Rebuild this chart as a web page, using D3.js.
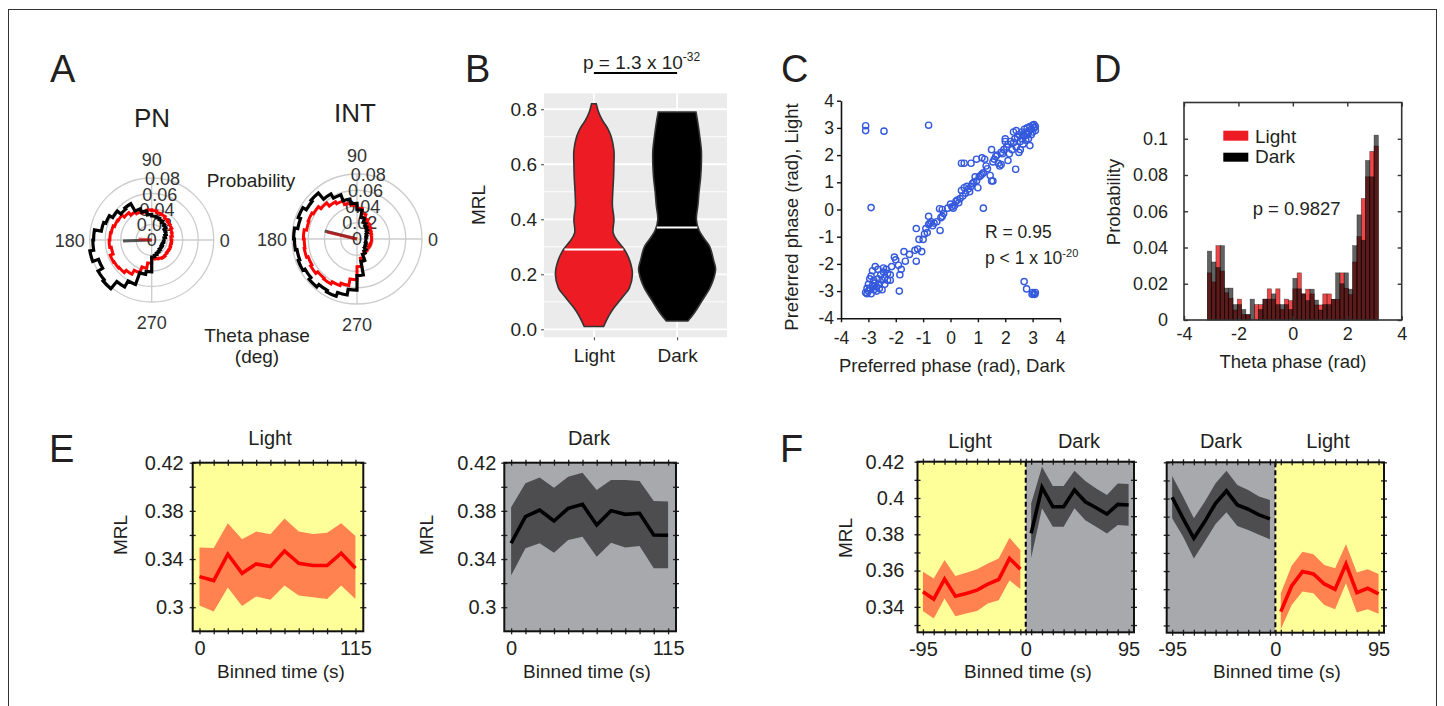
<!DOCTYPE html>
<html>
<head>
<meta charset="utf-8">
<script src="https://cdn.jsdelivr.net/npm/d3@7"></script>
<style>
  body { margin: 0; background: #fff; }
  text { font-family: "Liberation Sans", Arial, sans-serif; fill: #231f20; }
</style>
</head>
<body>
<svg id="fig" width="1444" height="706"></svg>
<script>
// ---------- data ----------
// A: polar histograms, 36 bins of 10 deg starting at 0 deg
var polarStep = 10;
var polarAngles = d3.range(0, 360, polarStep);
var polarRings = [0.02, 0.04, 0.06, 0.08];
var polarRingLabels = [0, 0.02, 0.04, 0.06, 0.08];
var pnDark = [0.016,0.018,0.02,0.021,0.024,0.026,0.028,0.03,0.031,0.033,0.038,0.043,0.054,0.052,0.058,0.063,0.066,0.075,
              0.076,0.081,0.073,0.08,0.082,0.07,0.061,0.045,0.041,0.022,0.02,0.018,0.017,0.015,0.016,0.014,0.015,0.016];
var pnLight = [0.025,0.027,0.028,0.03,0.031,0.033,0.035,0.036,0.038,0.039,0.037,0.039,0.042,0.046,0.05,0.051,0.053,0.054,
               0.055,0.053,0.057,0.056,0.055,0.051,0.045,0.037,0.03,0.024,0.025,0.026,0.027,0.026,0.025,0.026,0.025,0.026];
var intDark = [0.011,0.012,0.013,0.015,0.017,0.019,0.022,0.027,0.036,0.044,0.05,0.058,0.064,0.074,0.072,0.077,0.074,0.078,
               0.077,0.075,0.077,0.074,0.077,0.073,0.075,0.07,0.063,0.045,0.028,0.02,0.017,0.014,0.013,0.012,0.011,0.011];
var intLight = [0.018,0.018,0.019,0.02,0.022,0.024,0.027,0.032,0.038,0.042,0.045,0.05,0.053,0.058,0.062,0.064,0.063,0.066,
                0.065,0.066,0.064,0.066,0.063,0.064,0.061,0.058,0.05,0.034,0.024,0.02,0.019,0.018,0.018,0.017,0.018,0.018];
var pnMeanAngle = [182, 176];   // dark, light (deg)
var pnMeanLen = [0.037, 0.017];
var intMeanAngle = [166, 167];
var intMeanLen = [0.041, 0.038];

// B: violins
var violinGroups = ['Light', 'Dark'];
var violinLightVals = [0.01,0.05,0.08,0.12,0.15,0.20,0.25,0.29,0.32,0.35,0.40,0.45,0.50,0.55,0.60,0.65,0.70,0.73,0.76,0.79,0.82];
var violinLightDens = [0.25,0.39,0.53,0.76,0.92,1.0,0.93,0.79,0.62,0.5,0.52,0.48,0.49,0.51,0.52,0.52,0.45,0.36,0.22,0.12,0.06];
var violinDarkVals = [0.03,0.06,0.10,0.15,0.18,0.22,0.25,0.30,0.33,0.36,0.40,0.45,0.50,0.55,0.60,0.65,0.70,0.75,0.79];
var violinDarkDens = [0.28,0.45,0.63,0.85,0.94,1.0,0.95,0.85,0.7,0.57,0.5,0.54,0.57,0.61,0.63,0.63,0.59,0.54,0.49];
var violinMedians = [0.29, 0.37];
var bTicks = [0, 0.2, 0.4, 0.6, 0.8];
var bMinor = [0.1, 0.3, 0.5, 0.7];

// C: preferred phase, [dark, light]
var phasePairs = [
  [-3.1,3.08],[-3.1,2.9],[-2.43,2.88],[-0.8,3.1],[-2.9,0.07],[1.2,0.05],[2.38,1.48],[2.69,-2.65],[2.78,-2.92],
  [3.0,-3.05],[3.05,-3.1],[3.1,-3.05],[3.08,-3.12],[2.98,-3.12],[-1.87,-3.0],[-0.38,-0.77],
  [-3.1,-3.05],[-3.05,-3.1],[-3.0,-3.0],[-2.95,-2.9],[-2.9,-3.1],[-2.85,-2.8],[-2.8,-2.95],[-2.75,-2.7],[-2.7,-2.85],
  [-2.8,-2.6],[-2.85,-2.25],[-2.75,-2.1],[-2.65,-2.55],[-2.6,-2.75],[-2.55,-2.4],[-2.5,-2.6],[-2.45,-2.3],[-2.4,-2.5],
  [-2.35,-2.2],[-2.3,-2.6],[-2.5,-2.95],[-2.4,-2.75],[-2.2,-2.4],[-2.15,-2.1],[-2.05,-1.75],[-2.0,-1.85],[-2.9,-2.45],
  [-3.0,-2.75],[-2.95,-2.55],[-2.65,-2.2],[-2.6,-2.9],[-2.45,-2.15],[-2.3,-2.35],[-2.2,-2.6],[-3.05,-2.9],[-2.7,-3.0],
  [-1.9,-2.05],[-1.85,-2.4],[-1.8,-2.2],[-1.7,-1.55],[-1.65,-1.9],[-1.5,-1.65],[-1.3,-1.5],[-1.25,-1.9],[-1.2,-1.45],
  [-1.15,-1.1],[-1.05,-1.55],[-1.0,-1.1],[-0.95,-0.9],[-1.25,-0.7],[-0.9,-0.7],[-0.85,-0.85],[-0.8,-0.55],[-0.75,-0.5],
  [-0.7,-0.45],[-0.65,-0.6],[-0.6,-0.5],[-0.5,-0.45],[-0.8,-0.25],[-0.35,-0.3],[-0.3,0.0],[-0.3,-0.25],[-0.25,-0.15],
  [-0.4,0.03],[-0.1,0.05],[0.0,0.2],[0.05,0.1],[0.1,0.05],[0.15,0.15],[0.2,0.3],[0.25,0.35],[0.3,0.25],[0.35,0.4],
  [0.4,0.7],[0.45,0.5],[0.5,0.8],[0.55,0.6],[0.6,0.85],[0.65,0.75],[0.7,0.65],[0.75,0.85],[0.8,0.95],[0.85,1.0],
  [0.9,1.2],[0.95,1.05],[1.0,0.8],[1.05,1.2],[1.1,1.25],[1.15,1.3],[1.2,1.35],[1.25,1.85],[1.3,1.6],[1.35,1.5],
  [1.45,1.25],[1.5,1.05],[1.5,2.2],[1.55,1.75],[1.6,1.85],[1.65,1.95],[1.7,2.0],[1.75,1.7],[1.8,1.6],[1.85,2.1],
  [1.9,2.05],[1.95,2.2],[2.0,2.5],[2.0,2.6],[2.05,2.3],[2.1,1.8],[2.1,2.4],[2.15,2.05],[2.2,2.5],[2.25,2.2],[2.3,2.45],
  [2.35,2.6],[2.4,2.9],[2.4,2.3],[2.45,2.65],[2.5,2.75],[2.5,2.1],[2.55,2.5],[2.6,2.85],[2.6,2.6],[2.65,2.4],[2.7,2.95],
  [2.7,2.7],[2.75,2.55],[2.8,3.0],[2.8,2.75],[2.85,2.85],[2.85,2.6],[2.9,3.05],[2.9,2.35],[2.95,2.95],[2.95,2.75],
  [3.0,3.1],[3.0,2.85],[3.05,3.0],[3.05,3.12],[3.1,3.05],[3.1,2.9],[2.3,2.85],[2.55,2.2],[2.75,2.85],[2.65,2.75],
  [0.4,1.7],[0.5,1.7],[0.75,1.7],[0.95,1.85],[1.15,1.9],[1.85,1.65],[1.55,1.05]
];
var cTicks = [-4, -3, -2, -1, 0, 1, 2, 3, 4];

// D: phase histogram, 40 bins over [-pi, pi]
var histDark = [0.038,0.032,0.029,0.041,0.0176,0.0176,0.0085,0.0085,0.0058,0.003,0.0115,0,0.0058,0.0115,0.0115,0.0144,0.0085,0.0085,0.0085,0.0058,
                0.023,0.0172,0.0144,0.0107,0.017,0.011,0.0055,0.0085,0.0085,0.0114,0.026,0.020,0.026,0.017,0.041,0.058,0.044,0.088,0.079,0.102];
var histLight = [0.026,0.021,0.041,0.027,0.015,0.012,0.0055,0.0115,0.003,0.003,0,0.0085,0.0085,0.0115,0.0172,0.0115,0.0172,0.0058,0.0115,0.0107,
                 0.0172,0.026,0.0144,0.017,0.0144,0.0083,0.0083,0.0144,0.0144,0.0114,0.0114,0.026,0.0175,0.014,0.032,0.046,0.067,0.079,0.093,0.096];
var dXTicks = [-4, -2, 0, 2, 4];
var dYTicks = [0, 0.02, 0.04, 0.06, 0.08, 0.1];

// E: MRL over binned time
var eTime = [0,10.5,20.9,31.4,41.8,52.3,62.7,73.2,83.6,94.1,104.5,115];
var eLightMean = [0.3254,0.3221,0.344,0.3282,0.336,0.3337,0.3467,0.3365,0.3346,0.3346,0.3448,0.3324];
var eLightHi = [0.3495,0.3492,0.3697,0.3564,0.3628,0.3606,0.3736,0.3628,0.3608,0.3619,0.3697,0.3592];
var eLightLo = [0.3014,0.2964,0.3163,0.3011,0.3089,0.3061,0.318,0.3097,0.3083,0.3069,0.318,0.3069];
var eDarkMean = [0.3531,0.3752,0.3807,0.3716,0.3821,0.3854,0.3683,0.3802,0.3771,0.378,0.36,0.3597];
var eDarkHi = [0.383,0.4029,0.4078,0.3993,0.4084,0.4117,0.3973,0.4056,0.4056,0.4048,0.3882,0.3877];
var eDarkLo = [0.3263,0.3489,0.3531,0.3453,0.3559,0.3586,0.342,0.3536,0.3495,0.3509,0.3324,0.3324];
var eYTicks = [0.30, 0.32, 0.34, 0.36, 0.38, 0.40, 0.42];
var eYLabels = [0.3, 0.34, 0.38, 0.42];

// F: transitions
var fPre = [-95,-85,-75,-65,-55,-45,-35,-25,-15,-5];
var fPost = [5,15,25,35,45,55,65,75,85,95];
var f1LightMean = [0.3483,0.3443,0.3553,0.3459,0.3474,0.3492,0.3525,0.3551,0.3667,0.3608];
var f1LightHi = [0.3593,0.3557,0.3658,0.357,0.3588,0.3608,0.3639,0.3667,0.3781,0.3713];
var f1LightLo = [0.3378,0.3336,0.3446,0.3349,0.3364,0.3378,0.3419,0.3437,0.3547,0.3498];
var f1DarkMean = [0.3805,0.4058,0.3952,0.3952,0.4044,0.3979,0.3946,0.3911,0.3965,0.3961];
var f1DarkHi = [0.397,0.4172,0.4066,0.4066,0.415,0.4093,0.4053,0.4016,0.408,0.4077];
var f1DarkLo = [0.367,0.3943,0.3841,0.3841,0.3943,0.3878,0.3841,0.3805,0.3851,0.3847];
var f2DarkMean = [0.4007,0.3891,0.3781,0.3873,0.3974,0.4042,0.3965,0.3941,0.391,0.3888];
var f2DarkHi = [0.4125,0.4011,0.3891,0.3983,0.4084,0.4154,0.4075,0.4047,0.4011,0.3992];
var f2DarkLo = [0.3891,0.379,0.367,0.3763,0.386,0.3924,0.3849,0.3827,0.38,0.3775];
var f2LightMean = [0.3376,0.3518,0.3597,0.3584,0.3529,0.35,0.3639,0.3481,0.3505,0.3474];
var f2LightHi = [0.3478,0.363,0.3707,0.3693,0.3634,0.3615,0.3748,0.3592,0.361,0.3584];
var f2LightLo = [0.3279,0.3413,0.3487,0.3478,0.3413,0.3389,0.3533,0.3371,0.3389,0.3364];
var fYTicks = [0.33,0.34,0.35,0.36,0.37,0.38,0.39,0.40,0.41,0.42];
var fYLabels = [0.34, 0.36, 0.38, 0.4, 0.42];
var fXLabels = [-95, 0, 95];

// colours
var YELLOW = '#ffff99', GREY = '#a7a9ac', BAND_RED = '#ff8250', BAND_DARK = '#4d4d4f';

var svg = d3.select('#fig');

svg.append('rect').attr('x', 8.5).attr('y', 9.5).attr('width', 1428).attr('height', 720)
  .attr('fill', '#fff').attr('stroke', '#333').attr('stroke-width', 1);

function txt(x, y, t, size, anchor) {
  return svg.append('text').attr('x', x).attr('y', y).attr('font-size', size)
    .attr('text-anchor', anchor || 'start').text(t);
}
function vtxt(x, y, t, size) {
  return svg.append('text').attr('transform', 'translate(' + x + ',' + y + ') rotate(-90)')
    .attr('font-size', size).attr('text-anchor', 'middle').text(t);
}

// panel letters
txt(50, 82, 'A', 38); txt(465, 82, 'B', 38); txt(781, 82, 'C', 38); txt(1094, 82, 'D', 38);
txt(49, 462, 'E', 38); txt(780, 462, 'F', 38);

// ---------- A ----------
function polar(cx, cy, R, dark, light, meanAng, meanLen) {
  var g = svg.append('g').attr('transform', 'translate(' + cx + ',' + cy + ')');
  var r = d3.scaleLinear().domain([0, 0.08]).range([0, R]);
  function pt(deg, v) {
    var a = deg * Math.PI / 180;
    return [r(v) * Math.cos(a), -r(v) * Math.sin(a)];
  }
  polarRings.forEach(function(v) {
    g.append('circle').attr('r', r(v)).attr('fill', 'none').attr('stroke', '#cccccc').attr('stroke-width', 1.3);
  });
  g.append('line').attr('x1', -R).attr('x2', R).attr('stroke', '#cccccc').attr('stroke-width', 1.3);
  g.append('line').attr('y1', -R).attr('y2', R).attr('stroke', '#cccccc').attr('stroke-width', 1.3);

  polarRingLabels.forEach(function(v) {
    var p = pt(80, v);
    g.append('text').attr('x', p[0]).attr('y', p[1]).attr('dy', '0.36em').attr('font-size', 18)
      .attr('text-anchor', 'middle').style('fill', '#333').text(v);
  });
  var al = [['90', 0, -(R + 18), 'middle'], ['180', -(R + 5), 1, 'end'], ['0', R + 6, 1, 'start'], ['270', 0, R + 21, 'middle']];
  al.forEach(function(a) {
    g.append('text').attr('x', a[1]).attr('y', a[2]).attr('dy', '0.36em').attr('font-size', 18)
      .attr('text-anchor', a[3]).style('fill', '#333').text(a[0]);
  });

  function stairs(vals) {
    var s = '';
    vals.forEach(function(v, i) {
      var a0 = polarAngles[i], a1 = a0 + polarStep;
      s += (i === 0 ? 'M' : 'L') + pt(a0, v).join(',') + 'A' + r(v) + ',' + r(v) + ' 0 0 0 ' + pt(a1, v).join(',');
    });
    return s + 'Z';
  }
  g.append('path').attr('d', stairs(light)).attr('fill', 'none').attr('stroke', '#ff0000').attr('stroke-width', 3);
  g.append('path').attr('d', stairs(dark)).attr('fill', 'none').attr('stroke', '#000').attr('stroke-width', 3.2);

  var pd = pt(meanAng[0], meanLen[0]), pl = pt(meanAng[1], meanLen[1]);
  g.append('line').attr('x2', pd[0]).attr('y2', pd[1]).attr('stroke', '#222').attr('stroke-opacity', 0.75).attr('stroke-width', 3);
  g.append('line').attr('x2', pl[0]).attr('y2', pl[1]).attr('stroke', '#d00').attr('stroke-opacity', 0.6).attr('stroke-width', 3);
}
txt(152, 127, 'PN', 26, 'middle');
txt(355, 122, 'INT', 26, 'middle');
polar(151.7, 240, 62, pnDark, pnLight, pnMeanAngle, pnMeanLen);
polar(357, 239, 65, intDark, intLight, intMeanAngle, intMeanLen);
txt(251, 187, 'Probability', 19, 'middle');
txt(257, 342, 'Theta phase', 19, 'middle');
txt(257, 363, '(deg)', 19, 'middle');

// ---------- B ----------
(function() {
  var yB = d3.scaleLinear().domain([-0.029, 0.858]).range([337.3, 93.3]);
  var xB = d3.scalePoint().domain(violinGroups).range([544, 727]).padding(0.6);
  var wB = d3.scaleLinear().domain([0, 1]).range([0, 38.5]);
  var g = svg.append('g');
  g.append('rect').attr('x', 544).attr('y', 93.3).attr('width', 183).attr('height', 244).attr('fill', '#ebebeb');
  g.selectAll('.mn').data(bMinor).enter().append('line')
    .attr('x1', 544).attr('x2', 727).attr('y1', yB).attr('y2', yB).attr('stroke', '#fff').attr('stroke-width', 0.9);
  g.selectAll('.mj').data(bTicks).enter().append('line')
    .attr('x1', 544).attr('x2', 727).attr('y1', yB).attr('y2', yB).attr('stroke', '#fff').attr('stroke-width', 1.8);
  g.selectAll('.vg').data(violinGroups).enter().append('line')
    .attr('x1', xB).attr('x2', xB).attr('y1', 93.3).attr('y2', 337.3).attr('stroke', '#fff').attr('stroke-width', 1.8);

  var sets = [
    {name: 'Light', vals: violinLightVals, dens: violinLightDens, fill: '#ed1c24', med: violinMedians[0]},
    {name: 'Dark', vals: violinDarkVals, dens: violinDarkDens, fill: '#000000', med: violinMedians[1]}
  ];
  sets.forEach(function(s) {
    var cx = xB(s.name);
    var pts = s.vals.map(function(v, i) { return [v, s.dens[i]]; });
    var area = d3.area().curve(d3.curveCatmullRom)
      .y(function(d) { return yB(d[0]); })
      .x0(function(d) { return cx - wB(d[1]); })
      .x1(function(d) { return cx + wB(d[1]); });
    g.append('path').datum(pts).attr('d', area).attr('fill', s.fill).attr('stroke', '#333').attr('stroke-width', 1.6);
    var dAt = d3.scaleLinear().domain(s.vals).range(s.dens);
    var hw = wB(dAt(s.med)) - 1;
    g.append('line').attr('x1', cx - hw).attr('x2', cx + hw).attr('y1', yB(s.med)).attr('y2', yB(s.med))
      .attr('stroke', '#fff').attr('stroke-width', 2);
  });

  var ax = g.append('g').attr('transform', 'translate(544,0)')
    .call(d3.axisLeft(yB).tickValues(bTicks).tickFormat(d3.format('.1f')).tickSize(3).tickPadding(4));
  ax.select('.domain').remove();
  ax.selectAll('text').attr('font-size', 19).attr('font-family', null).style('fill', '#231f20');
  ax.selectAll('line').attr('stroke', '#444');
  var bx = g.append('g').attr('transform', 'translate(0,337.3)')
    .call(d3.axisBottom(xB).tickSize(3).tickPadding(8));
  bx.select('.domain').remove();
  bx.selectAll('text').attr('font-size', 19).attr('font-family', null).style('fill', '#231f20');
  bx.selectAll('line').attr('stroke', '#444');
  vtxt(485, 205, 'MRL', 19);

  var pt = txt(583, 69, 'p = 1.3 x 10', 19);
  pt.append('tspan').attr('dy', -8).attr('font-size', 12).text('-32');
  g.append('line').attr('x1', xB('Light')).attr('x2', xB('Dark')).attr('y1', 73).attr('y2', 73)
    .attr('stroke', '#000').attr('stroke-width', 2);
})();

// ---------- C ----------
(function() {
  var xC = d3.scaleLinear().domain([-4, 4]).range([841, 1060]);
  var yC = d3.scaleLinear().domain([-4, 4]).range([318.3, 100.7]);
  var g = svg.append('g');
  g.selectAll('circle').data(phasePairs).enter().append('circle')
    .attr('cx', function(d) { return xC(d[0]); })
    .attr('cy', function(d) { return yC(d[1]); })
    .attr('r', 3.1).attr('fill', 'none').attr('stroke', '#3459dc').attr('stroke-width', 1.4);
  var ay = g.append('g').attr('transform', 'translate(841,0)')
    .call(d3.axisLeft(yC).tickValues(cTicks).tickFormat(function(d) { return d; }).tickSize(4).tickSizeOuter(0).tickPadding(3));
  var ax = g.append('g').attr('transform', 'translate(0,318.3)')
    .call(d3.axisBottom(xC).tickValues(cTicks).tickFormat(function(d) { return d; }).tickSize(4).tickSizeOuter(0).tickPadding(9));
  [ax, ay].forEach(function(a) {
    a.select('.domain').attr('stroke', '#111').attr('stroke-width', 1.6);
    a.selectAll('line').attr('stroke', '#111').attr('stroke-width', 1.4);
    a.selectAll('text').attr('font-size', 17.5).attr('font-family', null).style('fill', '#231f20');
  });
  vtxt(798, 217, 'Preferred phase (rad), Light', 18.5);
  txt(952, 372, 'Preferred phase (rad), Dark', 18.5, 'middle');
  txt(985, 238, 'R = 0.95', 17.5);
  var p = txt(985, 264, 'p < 1 x 10', 17.5);
  p.append('tspan').attr('dy', -7).attr('font-size', 11).text('-20');
})();

// ---------- D ----------
(function() {
  var xD = d3.scaleLinear().domain([-4, 4]).range([1184, 1401.7]);
  var yD = d3.scaleLinear().domain([0, 0.12]).range([320, 102.5]);
  var edges = d3.range(histDark.length + 1).map(function(i) { return -Math.PI + i * 2 * Math.PI / histDark.length; });
  var g = svg.append('g');
  function bars(vals, fill) {
    g.append('g').selectAll('rect').data(vals).enter().append('rect')
      .attr('x', function(d, i) { return xD(edges[i]); })
      .attr('width', function(d, i) { return xD(edges[i + 1]) - xD(edges[i]); })
      .attr('y', function(d) { return yD(d); })
      .attr('height', function(d) { return yD(0) - yD(d); })
      .attr('fill', fill).attr('stroke', '#000').attr('stroke-opacity', 0.55).attr('stroke-width', 0.6);
  }
  bars(histLight, 'rgba(232,0,0,0.72)');
  bars(histDark, 'rgba(0,0,0,0.62)');

  g.append('rect').attr('x', 1184).attr('y', 102.5).attr('width', 217.7).attr('height', 217.5)
    .attr('fill', 'none').attr('stroke', '#333').attr('stroke-width', 1.6);
  var axB = g.append('g').attr('transform', 'translate(0,320)')
    .call(d3.axisBottom(xD).tickValues(dXTicks).tickFormat(function(d) { return d; }).tickSize(-4).tickSizeOuter(0).tickPadding(7));
  var axT = g.append('g').attr('transform', 'translate(0,102.5)')
    .call(d3.axisTop(xD).tickValues(dXTicks).tickFormat('').tickSize(-4).tickSizeOuter(0));
  var axL = g.append('g').attr('transform', 'translate(1184,0)')
    .call(d3.axisLeft(yD).tickValues(dYTicks).tickFormat(function(d) { return d; }).tickSize(-4).tickSizeOuter(0).tickPadding(16));
  var axR = g.append('g').attr('transform', 'translate(1401.7,0)')
    .call(d3.axisRight(yD).tickValues(dYTicks).tickFormat('').tickSize(-4).tickSizeOuter(0));
  [axB, axT, axL, axR].forEach(function(a) {
    a.select('.domain').remove();
    a.selectAll('line').attr('stroke', '#333').attr('stroke-width', 1.4);
    a.selectAll('text').attr('font-size', 18).attr('font-family', null).style('fill', '#231f20');
  });
  vtxt(1120, 202, 'Probability', 18.5);
  txt(1293, 368, 'Theta phase (rad)', 18.5, 'middle');

  g.append('rect').attr('x', 1223.3).attr('y', 130.7).attr('width', 25).attr('height', 10).attr('fill', '#ed1c24');
  g.append('rect').attr('x', 1223.3).attr('y', 152.7).attr('width', 25).attr('height', 9).attr('fill', '#000');
  txt(1255, 143, 'Light', 19);
  txt(1255, 163, 'Dark', 19);
  txt(1252.7, 215, 'p = 0.9827', 18.5);
})();

// ---------- E & F ----------
function timePanel(o) {
  var x = d3.scaleLinear().domain(o.xDomain).range([o.left, o.right]);
  var y = d3.scaleLinear().domain(o.yDomain).range([o.bottom, o.top]);
  var g = svg.append('g');
  o.bgs.forEach(function(b) {
    g.append('rect').attr('x', x(b[0])).attr('y', o.top).attr('width', x(b[1]) - x(b[0]))
      .attr('height', o.bottom - o.top).attr('fill', b[2]);
  });
  o.series.forEach(function(s) {
    var pts = s.t.map(function(t, i) { return {t: t, m: s.m[i], lo: s.lo[i], hi: s.hi[i]}; });
    g.append('path').datum(pts)
      .attr('d', d3.area().x(function(d) { return x(d.t); }).y0(function(d) { return y(d.lo); }).y1(function(d) { return y(d.hi); }))
      .attr('fill', s.band);
    g.append('path').datum(pts)
      .attr('d', d3.line().x(function(d) { return x(d.t); }).y(function(d) { return y(d.m); }))
      .attr('fill', 'none').attr('stroke', s.color).attr('stroke-width', 3.6);
  });
  if (o.divider) {
    g.append('line').attr('x1', x(0)).attr('x2', x(0)).attr('y1', o.top).attr('y2', o.bottom)
      .attr('stroke', '#000').attr('stroke-width', 2).attr('stroke-dasharray', '5,3');
  }
  function fmt(list) { return function(d) { return list.indexOf(d) >= 0 ? d : ''; }; }
  var axB = g.append('g').attr('transform', 'translate(0,' + o.bottom + ')')
    .call(d3.axisBottom(x).tickValues(o.xTicks).tickFormat(fmt(o.xLabels)).tickSize(3).tickSizeOuter(0).tickPadding(6.5));
  var axT = g.append('g').attr('transform', 'translate(0,' + o.top + ')')
    .call(d3.axisTop(x).tickValues(o.xTicks).tickFormat('').tickSize(3).tickSizeOuter(0));
  var axL = g.append('g').attr('transform', 'translate(' + o.left + ',0)')
    .call(d3.axisLeft(y).tickValues(o.yTicks).tickFormat(o.yLabels ? fmt(o.yLabels) : '').tickSize(3).tickSizeOuter(0).tickPadding(o.labelGap - 3));
  var axR = g.append('g').attr('transform', 'translate(' + o.right + ',0)')
    .call(d3.axisRight(y).tickValues(o.yTicks).tickFormat('').tickSize(3).tickSizeOuter(0));
  [axB, axT].forEach(function(a) { a.selectAll('.tick line').attr('y1', -3).attr('y2', 3); });
  [axL, axR].forEach(function(a) { a.selectAll('.tick line').attr('x1', -3).attr('x2', 3); });
  [axB, axT, axL, axR].forEach(function(a) {
    a.select('.domain').remove();
    a.selectAll('line').attr('stroke', '#222').attr('stroke-width', 1.3);
    a.selectAll('text').attr('font-size', 20).attr('font-family', null).style('fill', '#231f20');
  });
  g.append('rect').attr('x', o.left).attr('y', o.top).attr('width', o.right - o.left).attr('height', o.bottom - o.top)
    .attr('fill', 'none').attr('stroke', '#111').attr('stroke-width', 2);
}

timePanel({
  left: 192.7, right: 363.3, top: 462.7, bottom: 631.3, xDomain: [-5, 120.8], yDomain: [0.28, 0.42],
  bgs: [[-5, 120.8, YELLOW]],
  series: [{t: eTime, m: eLightMean, lo: eLightLo, hi: eLightHi, band: BAND_RED, color: '#ff0000'}],
  xTicks: eTime, xLabels: [0, 115], yTicks: eYTicks, yLabels: eYLabels, labelGap: 9
});
timePanel({
  left: 504.3, right: 676, top: 462.7, bottom: 631.3, xDomain: [-5, 120.8], yDomain: [0.28, 0.42],
  bgs: [[-5, 120.8, GREY]],
  series: [{t: eTime, m: eDarkMean, lo: eDarkLo, hi: eDarkHi, band: BAND_DARK, color: '#000'}],
  xTicks: eTime, xLabels: [0, 115], yTicks: eYTicks, yLabels: eYLabels, labelGap: 8
});
timePanel({
  left: 917.5, right: 1134, top: 461.7, bottom: 632.3, xDomain: [-100, 100], yDomain: [0.326, 0.42],
  bgs: [[-100, 0, YELLOW], [0, 100, GREY]],
  series: [
    {t: fPre, m: f1LightMean, lo: f1LightLo, hi: f1LightHi, band: BAND_RED, color: '#ff0000'},
    {t: fPost, m: f1DarkMean, lo: f1DarkLo, hi: f1DarkHi, band: BAND_DARK, color: '#000'}
  ],
  divider: true, xTicks: fPre.concat([0], fPost), xLabels: fXLabels, yTicks: fYTicks, yLabels: fYLabels, labelGap: 13
});
timePanel({
  left: 1166.7, right: 1384, top: 462.3, bottom: 632.7, xDomain: [-100, 100], yDomain: [0.326, 0.42],
  bgs: [[-100, 0, GREY], [0, 100, YELLOW]],
  series: [
    {t: fPre, m: f2DarkMean, lo: f2DarkLo, hi: f2DarkHi, band: BAND_DARK, color: '#000'},
    {t: fPost, m: f2LightMean, lo: f2LightLo, hi: f2LightHi, band: BAND_RED, color: '#ff0000'}
  ],
  divider: true, xTicks: fPre.concat([0], fPost), xLabels: fXLabels, yTicks: fYTicks, yLabels: null, labelGap: 13
});

txt(270, 445, 'Light', 20, 'middle');
txt(589, 445, 'Dark', 20, 'middle');
txt(970, 448, 'Light', 20, 'middle');
txt(1079, 448, 'Dark', 20, 'middle');
txt(1221, 448, 'Dark', 20, 'middle');
txt(1328, 448, 'Light', 20, 'middle');
vtxt(127, 535, 'MRL', 19);
vtxt(433, 535, 'MRL', 19);
vtxt(852, 538, 'MRL', 19);
txt(281, 678, 'Binned time (s)', 19, 'middle');
txt(587, 678, 'Binned time (s)', 19, 'middle');
txt(1028, 678, 'Binned time (s)', 19, 'middle');
txt(1277, 678, 'Binned time (s)', 19, 'middle');
</script>
</body>
</html>
